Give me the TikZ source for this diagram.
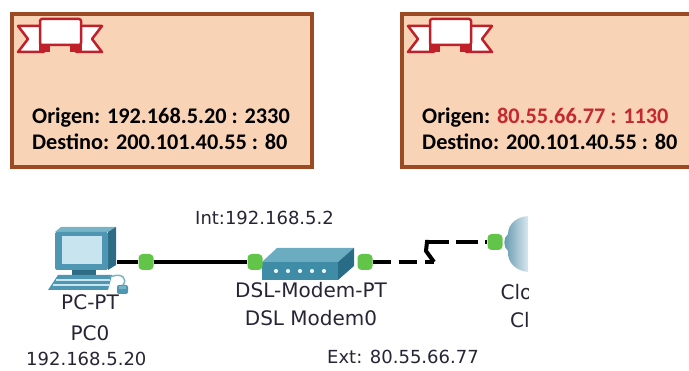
\documentclass[tikz,border=0pt]{standalone}
\usepackage{fontspec}
\setmainfont{Carlito}
\newfontfamily\ptfont{DejaVu Sans}
\usetikzlibrary{backgrounds}

\definecolor{notefill}{RGB}{249,211,181}
\definecolor{noteedge}{RGB}{155,74,36}
\definecolor{ribbonred}{RGB}{192,32,42}
\definecolor{natred}{RGB}{196,40,48}
\definecolor{portgreen}{RGB}{98,196,72}
\definecolor{labelink}{RGB}{40,36,52}
\definecolor{pcbody}{RGB}{78,150,178}
\definecolor{pclight}{RGB}{120,180,200}
\definecolor{pcscreen}{RGB}{200,228,238}
\definecolor{pcdark}{RGB}{45,108,132}
\definecolor{modemfront}{RGB}{62,140,166}
\definecolor{modemtop}{RGB}{108,172,192}
\definecolor{modemside}{RGB}{40,108,134}
\definecolor{cloudedge}{RGB}{96,150,172}
\definecolor{cloudcore}{RGB}{226,238,243}

\tikzset{
  note/.style={draw=noteedge, line width=4pt, fill=notefill, inner sep=0,
    anchor=north west},
  noteshadow/.style={fill=black!22},
  notetext/.style={font=\fontsize{22.3}{26}\selectfont\bfseries, text=black,
    anchor=base west, inner sep=0},
  devlabel/.style={font=\ptfont\fontsize{20}{28}\selectfont, text=labelink,
    align=center, inner sep=0, anchor=north},
  iplabel/.style={font=\ptfont\fontsize{18}{22}\selectfont, text=labelink,
    inner sep=0, anchor=base west},
  port/.style={fill=portgreen, rounded corners=4pt, minimum width=15pt,
    minimum height=16pt, inner sep=0},
  hotspot/.style={inner sep=0},
  link/.style={line width=4pt, black},
  wan/.style={link, dash pattern=on 18pt off 8pt},
  ribbonpart/.style={draw=ribbonred, line width=2.5pt, fill=white,
    line join=round},
  ribbon/.pic={
    \path[ribbonpart] (0,8) -- (26,8) -- (26,34) -- (0,34) -- (10,21) -- cycle;
    \path[ribbonpart] (84,8) -- (58,8) -- (58,34) -- (84,34) -- (74,21) -- cycle;
    \fill[ribbonred] (21,26) rectangle (32,34);
    \fill[ribbonred] (52,26) rectangle (64,34);
    \path[ribbonpart, rounded corners=2pt] (22,1) rectangle (63,27);
  }
}

\begin{document}
\begin{tikzpicture}[x=1pt, y=-1pt]
  \clip (0,0) rectangle (689,371);

  % translation notes: inside and outside address
  \fill[noteshadow] (11.5,13.5) rectangle (312,167);
  \node[note, minimum width=300pt, minimum height=153pt] (inside) at (10,12) {};
  \fill[noteshadow] (401.5,13.5) rectangle (705,167);
  \node[note, minimum width=310pt, minimum height=153pt] (outside) at (400,12) {};
  \pic at (18,18) {ribbon};
  \pic at (408,18) {ribbon};

  \node[notetext] (insrc) at (32,124) {Origen: 192.168.5.20 : 2330};
  \node[notetext] (insdst) at (32,150) {Destino: 200.101.40.55 : 80};
  \node[notetext] (outsrc) at (422,124)
    {Origen: \textcolor{natred}{80.55.66.77 : 1130}};
  \node[notetext] (outdst) at (422,150) {Destino: 200.101.40.55 : 80};

  % PC
  \node[hotspot, minimum width=62pt, minimum height=44pt] (pc) at (86,250) {};
  \fill[pclight] (55,232) -- (61,227) -- (116,227) -- (108,232) -- cycle;
  \fill[pcdark] (108,232) -- (116,227) -- (116,265) -- (108,270) -- cycle;
  \fill[pcbody, rounded corners=1.5pt] (55,232) rectangle (108,270);
  \fill[pcscreen] (62,236) rectangle (102,264);
  \fill[pcdark] (72,270) rectangle (96,275);
  \fill[pcbody] (58,275) -- (112,275) -- (108,290) -- (48,290) -- cycle;
  \draw[pcscreen, line width=1.2pt] (56,280) -- (110,280)
    (53,285) -- (109,285);
  \draw[pclight, line width=1.5pt] (110,277) .. controls (122,272) and (128,279) .. (123,285);
  \fill[pcbody, rounded corners=2pt] (117,285) rectangle (128,294);
  \fill[pclight] (119,286) rectangle (126,289);

  % DSL modem
  \node[hotspot, minimum width=92pt, minimum height=32pt] (modem) at (308,264) {};
  \fill[modemtop] (262,262) -- (277,248) -- (354,248) -- (338,262) -- cycle;
  \fill[modemside] (338,262) -- (354,248) -- (354,266) -- (338,280) -- cycle;
  \fill[modemfront] (262,262) rectangle (338,280);
  \foreach \dx in {276,288,300,312,324}
    \fill[white!85!modemtop] (\dx,271) circle (2.1pt);

  % cloud, cut at the frame edge
  \begin{scope}
    \clip (0,190) rectangle (528,371);
    \node[hotspot, minimum width=70pt, minimum height=56pt] (cloud) at (540,244) {};
    \shade[left color=cloudedge, right color=cloudcore]
      (530,216) .. controls (517,216) and (508,224) .. (508,234)
      .. controls (503,238) and (503,247) .. (508,251)
      .. controls (507,263) and (517,272) .. (530,272) -- cycle;
    \node[devlabel] (cloudlabel) at (545,284) {Cloud-PT\\Cloud0};
  \end{scope}

  % ports
  \node[port] (pcport) at (146,262) {};
  \node[port] (modemlan) at (255,262) {};
  \node[port] (modemwan) at (365,262) {};
  \node[port] (cloudport) at (495,242) {};

  % kink of the DSL line
  \coordinate (kinklow) at (434,262);
  \coordinate (kinkmid) at (426,251);
  \coordinate (kinkhigh) at (427,242);

  \begin{scope}[on background layer]
    \draw[link] (pc.east |- pcport) -- (pcport) -- (modemlan);
    \draw[wan] (modemwan) -- (kinklow);
    \draw[link, line join=miter] (kinklow) -- (kinkmid) -- (kinkhigh) -- ++(2,0);
    \draw[wan, dash pattern=on 22pt off 7pt] (kinkhigh) -- (cloudport);
  \end{scope}

  % labels
  \node[devlabel, font=\ptfont\fontsize{20}{31}\selectfont] (pclabel)
    at (90,294) {PC-PT\\PC0};
  \node[iplabel] (pcip) at (26,366) {192.168.5.20};
  \node[devlabel] (modemlabel) at (311,282) {DSL-Modem-PT\\DSL Modem0};
  \node[iplabel] (lanip) at (195,225) {Int:192.168.5.2};
  \node[iplabel] (wanip) at (327,364) {Ext: 80.55.66.77};
\end{tikzpicture}
\end{document}
